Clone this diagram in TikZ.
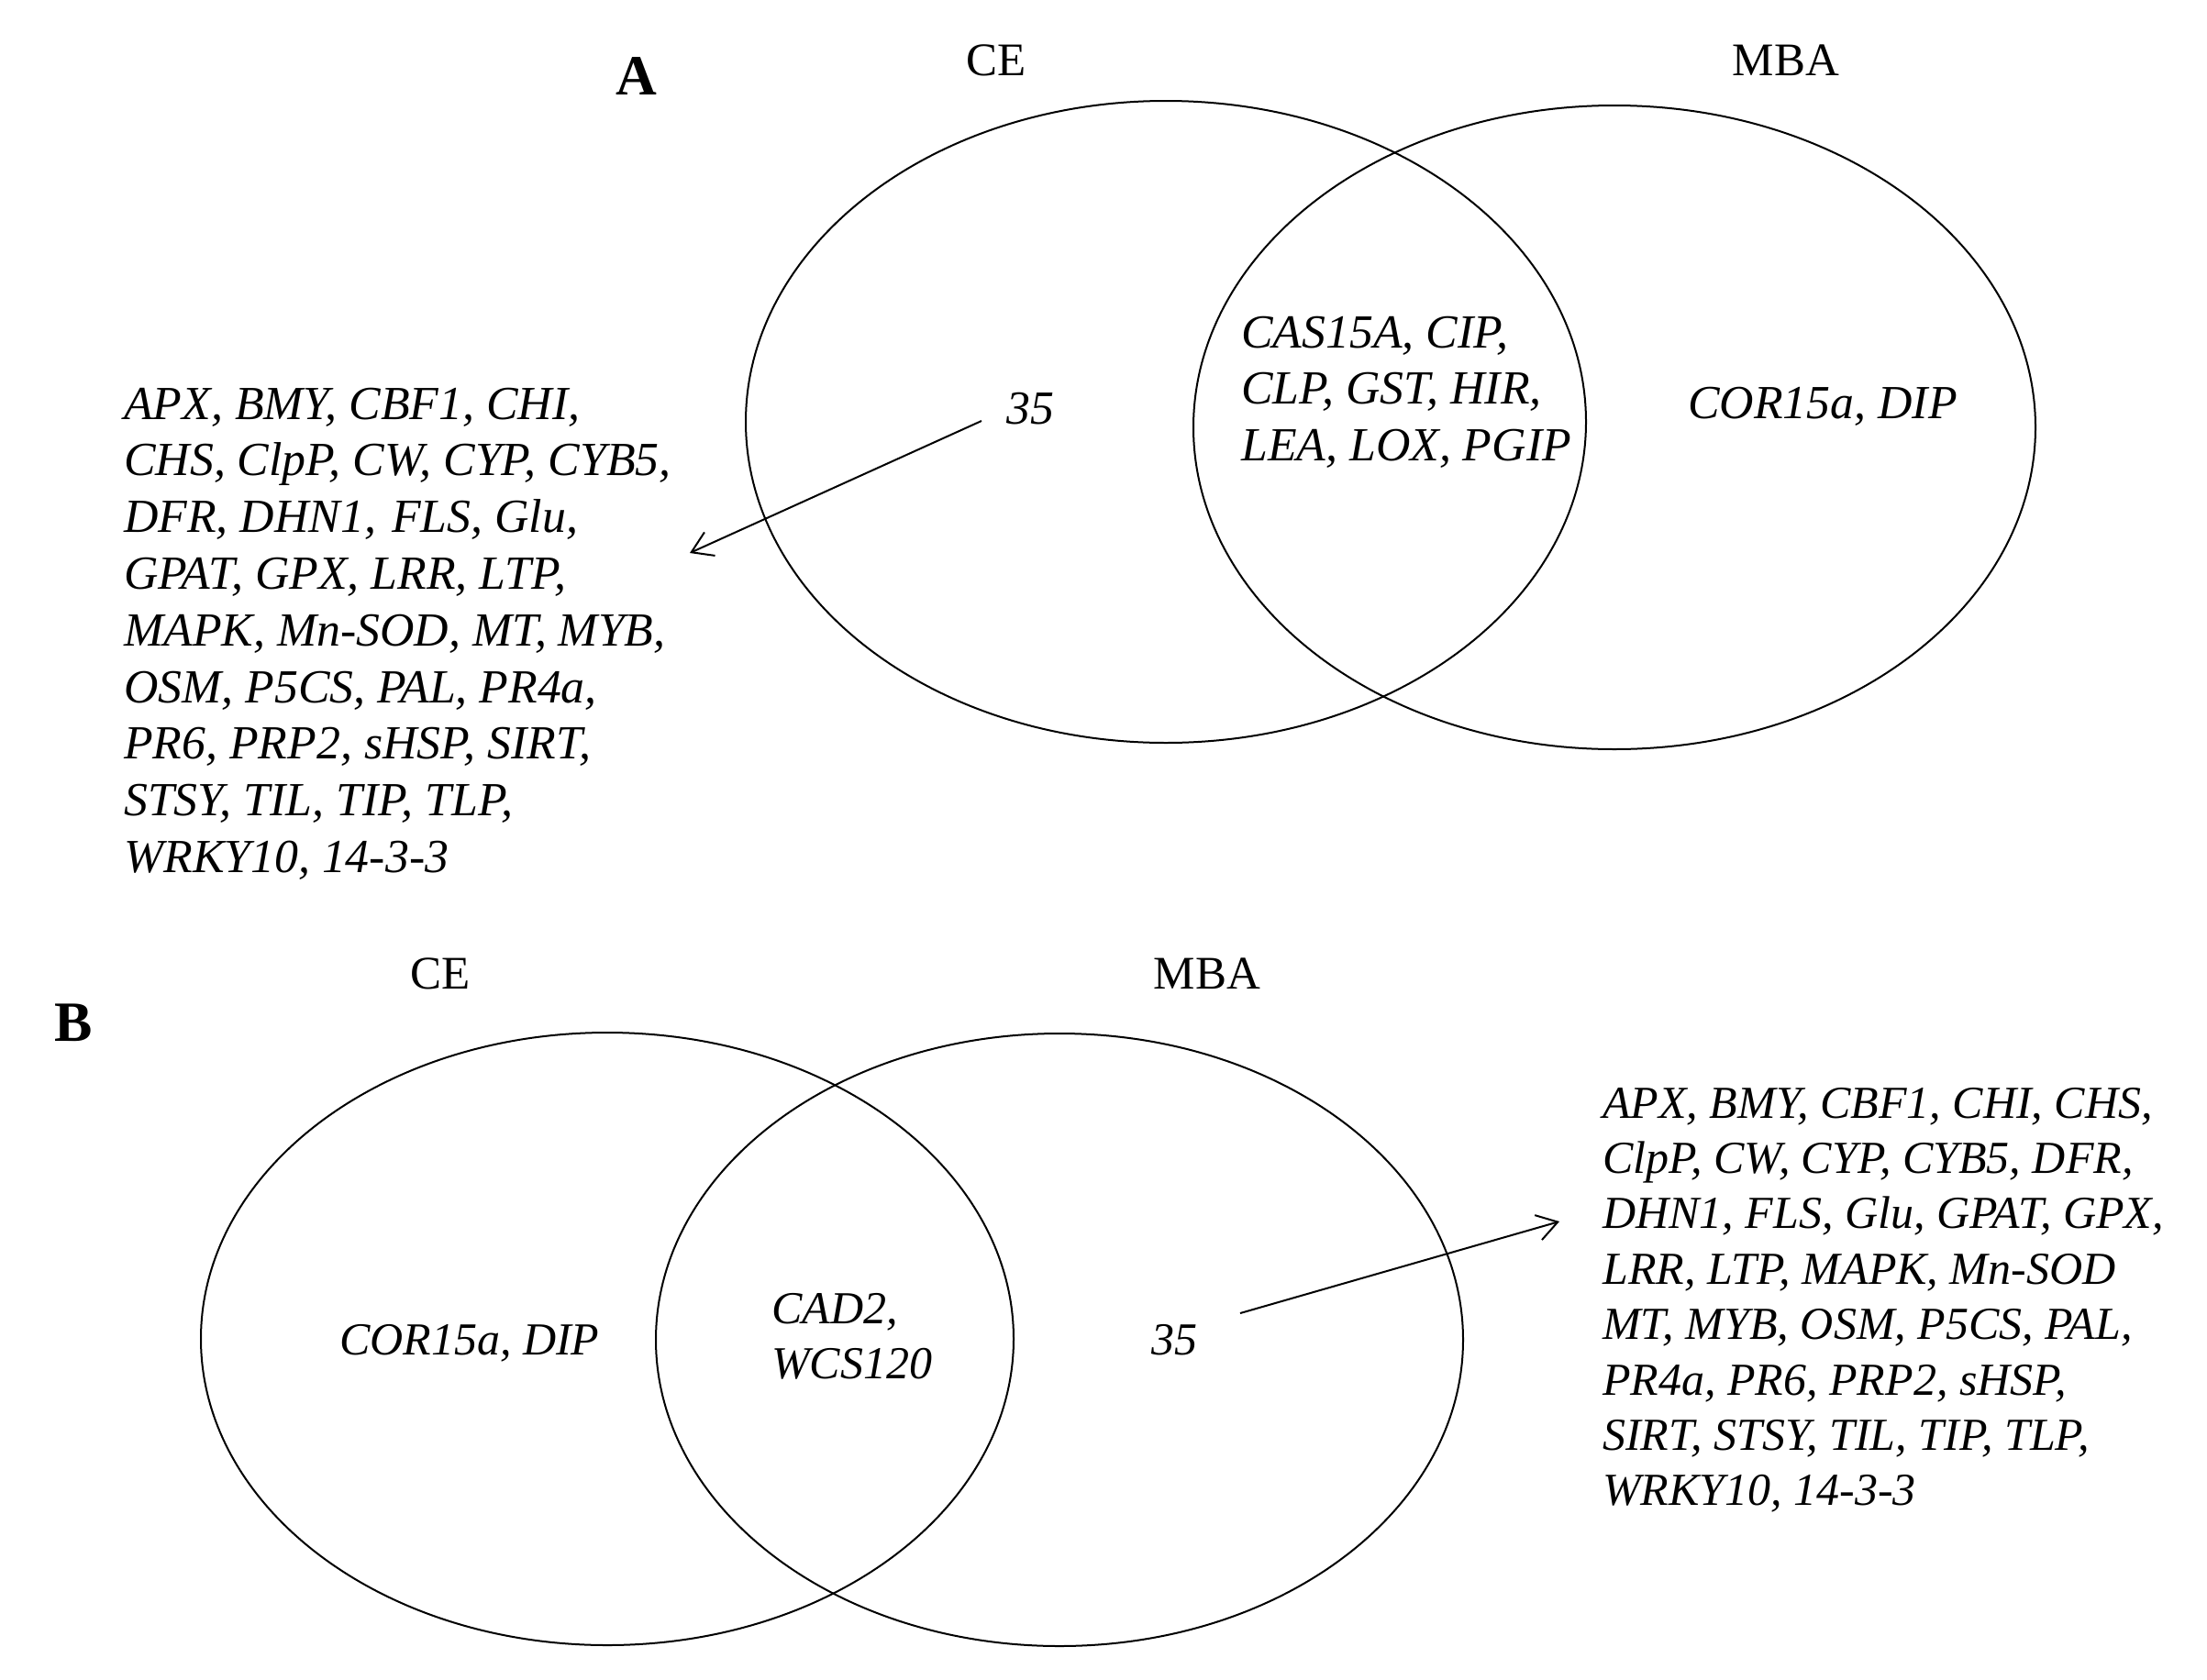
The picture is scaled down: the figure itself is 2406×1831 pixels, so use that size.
\documentclass[tikz,border=0pt]{standalone}
\usepackage{fontspec}
\setmainfont{Liberation Serif}
\usetikzlibrary{arrows.meta}
\tikzset{
  venn/.style={draw, line width=2pt},
  gene/.style={font=\fontsize{50}{60}\selectfont\itshape, inner sep=0pt, anchor=base west},
  geneA/.style={font=\fontsize{51.8}{60}\selectfont\itshape, inner sep=0pt, anchor=base west},
  setlab/.style={font=\fontsize{51}{60}\selectfont, inner sep=0pt, anchor=base},
  panel/.style={font=\fontsize{62}{70}\selectfont\bfseries, inner sep=0pt, anchor=base},
  arr/.style={-{Straight Barb[length=22pt,width=28pt,line width=2pt]}, line width=2pt}
}
\begin{document}
\begin{tikzpicture}[x=1pt,y=-1pt]
\useasboundingbox (0,0) rectangle (2406,1831);
\fill[white] (0,0) rectangle (2406,1831);
% ---------- Panel A ----------
\node[panel] (pA) at (694,103) {A};
\node[setlab] (ceA) at (1086,82) {CE};
\node[setlab] (mbaA) at (1947,82) {MBA};
\draw[venn] (1271,460) ellipse [x radius=458pt, y radius=350pt];
\draw[venn] (1760,466) ellipse [x radius=459pt, y radius=351pt];
\node[geneA] (n35A) at (1097,462) {35};
\node[geneA] (cA1) at (1353,379) {CAS15A, CIP,};
\node[geneA] (cA2) at (1353,440) {CLP, GST, HIR,};
\node[geneA] (cA3) at (1353,502) {LEA, LOX, PGIP};
\node[geneA] (rA) at (1840,456) {COR15a, DIP};
\foreach \t [count=\i from 0] in {
  {APX, BMY, CBF1, CHI,},
  {CHS, ClpP, CW, CYP, CYB5,},
  {DFR, DHN1,\hspace{0.08em} FLS, Glu,},
  {GPAT, GPX, LRR, LTP,},
  {MAPK, Mn-SOD, MT, MYB,},
  {OSM, P5CS, PAL, PR4a,},
  {PR6, PRP2, sHSP, SIRT,},
  {STSY, TIL, TIP, TLP,},
  {WRKY10, 14-3-3}}
  \node[geneA] (lA\i) at (135,457+61.8*\i) {\t};
\coordinate (aAs) at (1070,459);
\coordinate (aAe) at (752,603);
\draw[arr] (aAs) -- (aAe);
% ---------- Panel B ----------
\node[panel] (pB) at (80,1135) {B};
\node[setlab] (ceB) at (480,1078) {CE};
\node[setlab] (mbaB) at (1316,1078) {MBA};
\draw[venn] (662,1460) ellipse [x radius=443pt, y radius=334pt];
\draw[venn] (1155,1461) ellipse [x radius=440pt, y radius=334pt];
\node[gene] (lB) at (370,1477) {COR15a, DIP};
\node[gene] (cB1) at (841,1443) {CAD2,};
\node[gene] (cB2) at (841,1503) {WCS120};
\node[gene] (n35B) at (1255,1477) {35};
\foreach \t [count=\i from 0] in {
  {APX, BMY, CBF1, CHI, CHS,},
  {ClpP, CW, CYP, CYB5, DFR,},
  {DHN1, FLS, Glu, GPAT, GPX,},
  {LRR, LTP, MAPK, Mn-SOD},
  {MT, MYB, OSM, P5CS, PAL,},
  {PR4a, PR6, PRP2, sHSP,},
  {SIRT, STSY, TIL, TIP, TLP,},
  {WRKY10, 14-3-3}}
  \node[gene] (lB\i) at (1747,1219+60.4*\i) {\t};
\coordinate (aBs) at (1352,1432);
\coordinate (aBe) at (1700,1332);
\draw[arr] (aBs) -- (aBe);
\end{tikzpicture}
\end{document}
